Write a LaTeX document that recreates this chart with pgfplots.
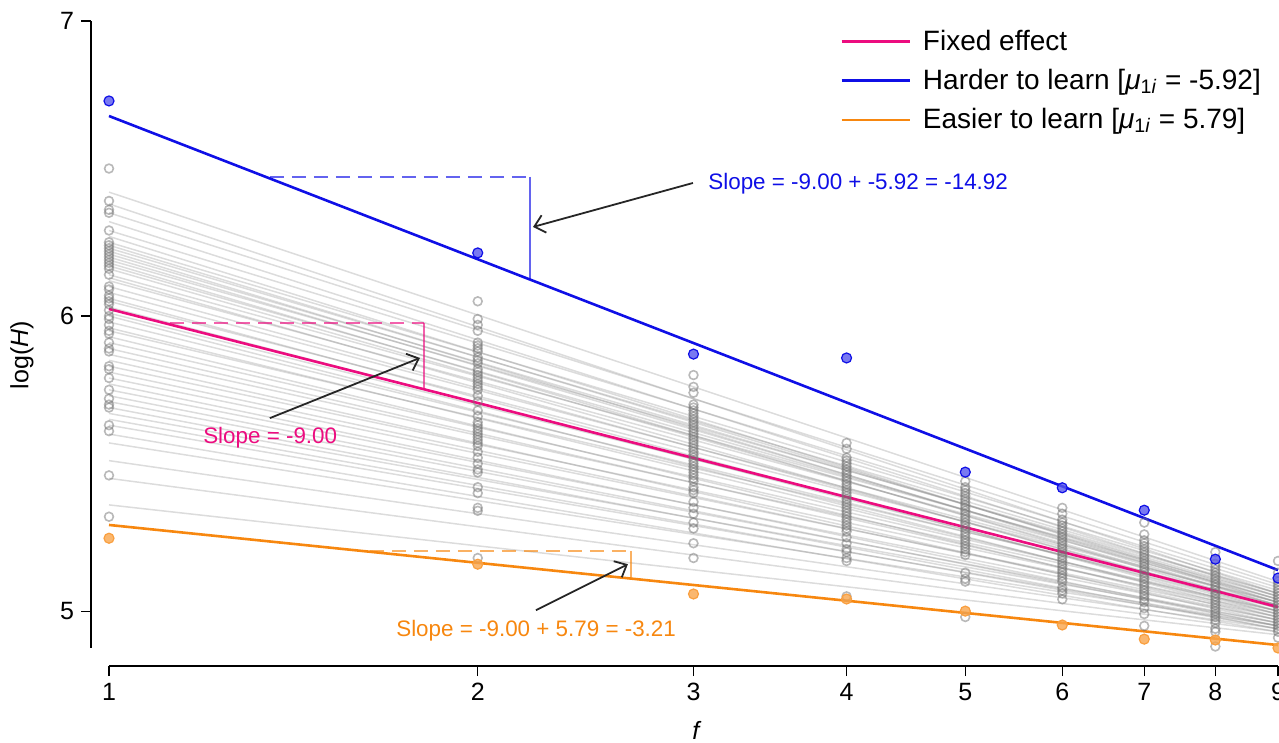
\documentclass[border=0pt]{standalone}
\usepackage{fontspec}
\setmainfont{Liberation Sans}
\usepackage{pgfplots}
\pgfplotsset{compat=1.18}
\usetikzlibrary{arrows.meta}
\definecolor{pinkc}{HTML}{EC0C7F}
\definecolor{bluec}{HTML}{0F0FE6}
\definecolor{orangec}{HTML}{F7870F}
\newcommand{\tickfont}{\fontsize{12.5}{15}\selectfont}
\newcommand{\annfont}{\fontsize{11.2}{13}\selectfont}
\begin{document}
\begin{tikzpicture}[x=1pt,y=1pt]
\useasboundingbox (0,0) rectangle (639.5,371.5);
\clip (0,0) rectangle (639.5,371.5);
\begin{axis}[
  at={(54.5pt,47.5pt)}, anchor=south west,
  scale only axis, width=584.5pt, height=313.5pt,
  xmode=log, xmin=1, xmax=9, ymin=4.875, ymax=7,
  clip=false,
  axis x line*=bottom, axis y line*=left,
  axis x line shift=9pt, axis y line shift=9pt,
  axis line style={-, line width=0.6pt, black},
  tick align=outside, major tick length=5pt,
  tick style={black, line width=0.6pt},
  xtick={1,2,3,4,5,6,7,8,9}, xticklabels={1,2,3,4,5,6,7,8,9},
  ytick={5,6,7}, yticklabels={5,6,7},
  /pgf/number format/assume math mode=true,
  tick label style={font=\tickfont},
  xlabel={\textit{f}}, ylabel={log(\textit{H})},
  every axis x label/.style={at={(axis description cs:0.503,-0.131)}, anchor=center, font=\tickfont},
  every axis y label/.style={at={(axis description cs:-0.0744,0.467)}, rotate=90, anchor=center, font=\tickfont},
  legend style={draw=none, fill=none, at={(axis description cs:0.6253,0.993)}, anchor=north west, font=\fontsize{14}{16}\selectfont, row sep=4pt, inner sep=0pt},
  legend cell align=left,
  legend image code/.code={\draw[#1] (0pt,0pt) -- (34pt,0pt); \path (38pt,0pt);},
  gl/.style={forget plot, black!50, opacity=0.28, line width=0.75pt},
  gp/.style={forget plot, only marks, mark=o, mark size=2.2pt, black!55, opacity=0.5, mark options={line width=0.8pt}},
]
% subject-level fitted lines
\addplot[gl] coordinates {(1,6.42) (9,5.10)};
\addplot[gl] coordinates {(1,6.38) (9,5.06)};
\addplot[gl] coordinates {(1,6.35) (9,5.09)};
\addplot[gl] coordinates {(1,6.32) (9,5.05)};
\addplot[gl] coordinates {(1,6.29) (9,5.08)};
\addplot[gl] coordinates {(1,6.27) (9,5.03)};
\addplot[gl] coordinates {(1,6.25) (9,5.07)};
\addplot[gl] coordinates {(1,6.24) (9,5.04)};
\addplot[gl] coordinates {(1,6.23) (9,5.06)};
\addplot[gl] coordinates {(1,6.22) (9,5.02)};
\addplot[gl] coordinates {(1,6.21) (9,5.05)};
\addplot[gl] coordinates {(1,6.20) (9,5.03)};
\addplot[gl] coordinates {(1,6.19) (9,5.06)};
\addplot[gl] coordinates {(1,6.18) (9,5.01)};
\addplot[gl] coordinates {(1,6.17) (9,5.04)};
\addplot[gl] coordinates {(1,6.16) (9,5.02)};
\addplot[gl] coordinates {(1,6.14) (9,5.05)};
\addplot[gl] coordinates {(1,6.13) (9,5.00)};
\addplot[gl] coordinates {(1,6.12) (9,5.04)};
\addplot[gl] coordinates {(1,6.10) (9,5.01)};
\addplot[gl] coordinates {(1,6.08) (9,5.03)};
\addplot[gl] coordinates {(1,6.06) (9,4.99)};
\addplot[gl] coordinates {(1,6.05) (9,5.03)};
\addplot[gl] coordinates {(1,6.03) (9,5.00)};
\addplot[gl] coordinates {(1,6.01) (9,5.02)};
\addplot[gl] coordinates {(1,6.00) (9,4.98)};
\addplot[gl] coordinates {(1,5.98) (9,5.01)};
\addplot[gl] coordinates {(1,5.96) (9,4.99)};
\addplot[gl] coordinates {(1,5.95) (9,5.02)};
\addplot[gl] coordinates {(1,5.93) (9,4.97)};
\addplot[gl] coordinates {(1,5.91) (9,5.00)};
\addplot[gl] coordinates {(1,5.89) (9,4.98)};
\addplot[gl] coordinates {(1,5.87) (9,5.00)};
\addplot[gl] coordinates {(1,5.85) (9,4.96)};
\addplot[gl] coordinates {(1,5.83) (9,4.99)};
\addplot[gl] coordinates {(1,5.81) (9,4.97)};
\addplot[gl] coordinates {(1,5.79) (9,4.98)};
\addplot[gl] coordinates {(1,5.77) (9,4.95)};
\addplot[gl] coordinates {(1,5.75) (9,4.97)};
\addplot[gl] coordinates {(1,5.73) (9,4.95)};
\addplot[gl] coordinates {(1,5.71) (9,4.96)};
\addplot[gl] coordinates {(1,5.69) (9,4.94)};
\addplot[gl] coordinates {(1,5.67) (9,4.96)};
\addplot[gl] coordinates {(1,5.65) (9,4.94)};
\addplot[gl] coordinates {(1,5.63) (9,4.95)};
\addplot[gl] coordinates {(1,5.60) (9,4.93)};
\addplot[gl] coordinates {(1,5.57) (9,4.95)};
\addplot[gl] coordinates {(1,5.51) (9,4.94)};
\addplot[gl] coordinates {(1,5.45) (9,4.93)};
\addplot[gl] coordinates {(1,5.36) (9,4.92)};
% subject-level observations
\addplot[gp] coordinates {(1,6.50)(1,6.39)(1,6.36)(1,6.35)(1,6.29)(1,6.25)(1,6.24)(1,6.23)(1,6.22)(1,6.21)(1,6.20)(1,6.19)(1,6.18)(1,6.17)(1,6.16)(1,6.14)(1,6.10)(1,6.09)(1,6.07)(1,6.06)(1,6.05)(1,6.04)(1,6.02)(1,6.00)(1,5.99)(1,5.97)(1,5.95)(1,5.94)(1,5.91)(1,5.89)(1,5.88)(1,5.83)(1,5.82)(1,5.79)(1,5.75)(1,5.72)(1,5.70)(1,5.69)(1,5.63)(1,5.61)(1,5.46)(1,5.32)};
\addplot[gp] coordinates {(2,6.05)(2,5.99)(2,5.97)(2,5.95)(2,5.91)(2,5.90)(2,5.89)(2,5.88)(2,5.86)(2,5.85)(2,5.84)(2,5.82)(2,5.81)(2,5.80)(2,5.79)(2,5.78)(2,5.77)(2,5.76)(2,5.75)(2,5.73)(2,5.71)(2,5.68)(2,5.66)(2,5.64)(2,5.63)(2,5.62)(2,5.61)(2,5.60)(2,5.59)(2,5.58)(2,5.57)(2,5.56)(2,5.54)(2,5.52)(2,5.50)(2,5.48)(2,5.47)(2,5.42)(2,5.40)(2,5.35)(2,5.34)(2,5.18)};
\addplot[gp] coordinates {(3,5.80)(3,5.76)(3,5.74)(3,5.70)(3,5.69)(3,5.68)(3,5.67)(3,5.66)(3,5.65)(3,5.64)(3,5.63)(3,5.62)(3,5.61)(3,5.60)(3,5.59)(3,5.58)(3,5.57)(3,5.56)(3,5.55)(3,5.54)(3,5.53)(3,5.52)(3,5.51)(3,5.50)(3,5.49)(3,5.48)(3,5.47)(3,5.46)(3,5.45)(3,5.44)(3,5.42)(3,5.41)(3,5.40)(3,5.37)(3,5.35)(3,5.33)(3,5.30)(3,5.28)(3,5.23)(3,5.18)};
\addplot[gp] coordinates {(4,5.57)(4,5.55)(4,5.52)(4,5.51)(4,5.50)(4,5.49)(4,5.48)(4,5.47)(4,5.46)(4,5.45)(4,5.44)(4,5.43)(4,5.42)(4,5.41)(4,5.40)(4,5.39)(4,5.38)(4,5.37)(4,5.36)(4,5.35)(4,5.34)(4,5.33)(4,5.32)(4,5.31)(4,5.30)(4,5.29)(4,5.28)(4,5.27)(4,5.25)(4,5.23)(4,5.21)(4,5.20)(4,5.18)(4,5.17)(4,5.05)};
\addplot[gp] coordinates {(5,5.44)(5,5.42)(5,5.41)(5,5.40)(5,5.39)(5,5.38)(5,5.37)(5,5.36)(5,5.35)(5,5.34)(5,5.33)(5,5.32)(5,5.31)(5,5.30)(5,5.29)(5,5.28)(5,5.27)(5,5.26)(5,5.25)(5,5.24)(5,5.23)(5,5.22)(5,5.21)(5,5.20)(5,5.19)(5,5.13)(5,5.11)(5,5.10)(5,4.98)};
\addplot[gp] coordinates {(6,5.35)(6,5.33)(6,5.31)(6,5.30)(6,5.29)(6,5.28)(6,5.27)(6,5.26)(6,5.25)(6,5.24)(6,5.23)(6,5.22)(6,5.21)(6,5.20)(6,5.19)(6,5.18)(6,5.17)(6,5.16)(6,5.15)(6,5.14)(6,5.13)(6,5.12)(6,5.11)(6,5.10)(6,5.08)(6,5.07)(6,5.06)(6,5.04)};
\addplot[gp] coordinates {(7,5.30)(7,5.26)(7,5.24)(7,5.23)(7,5.22)(7,5.21)(7,5.20)(7,5.19)(7,5.18)(7,5.17)(7,5.16)(7,5.15)(7,5.14)(7,5.13)(7,5.12)(7,5.11)(7,5.10)(7,5.09)(7,5.08)(7,5.07)(7,5.06)(7,5.05)(7,5.04)(7,5.03)(7,5.01)(7,4.99)(7,4.95)};
\addplot[gp] coordinates {(8,5.20)(8,5.16)(8,5.15)(8,5.14)(8,5.13)(8,5.12)(8,5.11)(8,5.10)(8,5.09)(8,5.08)(8,5.07)(8,5.06)(8,5.05)(8,5.04)(8,5.03)(8,5.02)(8,5.01)(8,5.00)(8,4.99)(8,4.98)(8,4.97)(8,4.96)(8,4.94)(8,4.93)(8,4.88)};
\addplot[gp] coordinates {(9,5.17)(9,5.13)(9,5.10)(9,5.09)(9,5.08)(9,5.07)(9,5.06)(9,5.05)(9,5.04)(9,5.03)(9,5.02)(9,5.01)(9,5.00)(9,4.99)(9,4.98)(9,4.97)(9,4.96)(9,4.95)(9,4.94)(9,4.93)(9,4.91)};
% slope triangles
\addplot[forget plot, bluec, opacity=0.65, line width=1pt, dash pattern=on 7pt off 4pt] coordinates {(1.353,6.472) (2.206,6.472)};
\addplot[forget plot, bluec, opacity=0.65, line width=0.7pt] coordinates {(2.206,6.472) (2.206,6.124)};
\addplot[forget plot, pinkc, opacity=0.65, line width=1pt, dash pattern=on 7pt off 4pt] coordinates {(1.1215,5.975) (1.808,5.975)};
\addplot[forget plot, pinkc, opacity=0.65, line width=0.7pt] coordinates {(1.808,5.975) (1.808,5.752)};
\addplot[forget plot, orangec, opacity=0.65, line width=1pt, dash pattern=on 7pt off 4pt] coordinates {(1.633,5.203) (2.668,5.203)};
\addplot[forget plot, orangec, opacity=0.65, line width=0.7pt] coordinates {(2.668,5.203) (2.668,5.110)};
% fitted lines
\addplot[forget plot, pinkc, line width=1.3pt] coordinates {(1,6.024) (9,5.014)};
\addplot[forget plot, bluec, line width=1.3pt] coordinates {(1,6.678) (9,5.139)};
\addplot[forget plot, orangec, line width=1.3pt] coordinates {(1,5.292) (9,4.885)};
% highlighted subjects
\addplot[forget plot, only marks, mark=*, mark size=2.5pt, mark options={draw=bluec, fill=bluec!70, fill opacity=0.8, line width=0.6pt}] coordinates {(1,6.729)(2,6.214)(3,5.871)(4,5.858)(5,5.471)(6,5.418)(7,5.342)(8,5.176)(9,5.112)};
\addplot[forget plot, only marks, mark=*, mark size=2.5pt, mark options={draw=orangec!80, fill=orangec!75, fill opacity=0.8, line width=0.6pt}] coordinates {(1,5.247)(2,5.159)(3,5.058)(4,5.041)(5,5.000)(6,4.953)(7,4.905)(8,4.902)(9,4.875)};
% annotations
\draw[-{Straight Barb[length=5pt,width=9pt]}, line width=0.9pt, black!85] (axis cs:2.997,6.451) -- (axis cs:2.219,6.302);
\draw[-{Straight Barb[length=5pt,width=9pt]}, line width=0.9pt, black!85] (axis cs:1.353,5.654) -- (axis cs:1.794,5.858);
\draw[-{Straight Barb[length=5pt,width=9pt]}, line width=0.9pt, black!85] (axis cs:2.231,5.003) -- (axis cs:2.652,5.159);
\node[anchor=west, text=bluec, font=\annfont, inner sep=0pt] at (axis cs:3.083,6.4475) {Slope = -9.00 + -5.92 = -14.92};
\node[anchor=west, text=pinkc, font=\annfont, inner sep=0pt] at (axis cs:1.193,5.586) {Slope = -9.00};
\node[anchor=west, text=orangec, font=\annfont, inner sep=0pt] at (axis cs:1.715,4.932) {Slope = -9.00 + 5.79 = -3.21};
% legend
\addlegendimage{pinkc, line width=1.3pt}
\addlegendentry{Fixed effect}
\addlegendimage{bluec, line width=1.3pt}
\addlegendentry{Harder to learn [\textit{μ}\textsubscript{1\textit{i}} = -5.92]}
\addlegendimage{orangec, line width=1.3pt}
\addlegendentry{Easier to learn [\textit{μ}\textsubscript{1\textit{i}} = 5.79]}
\end{axis}
\end{tikzpicture}
\end{document}
